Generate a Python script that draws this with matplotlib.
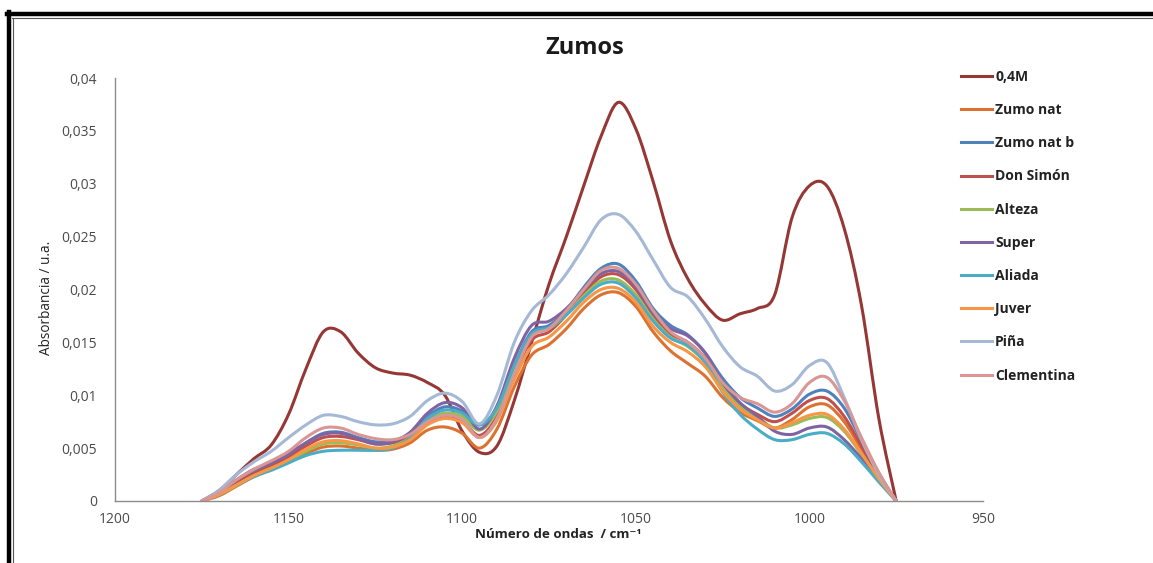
import matplotlib
matplotlib.use("Agg")
import matplotlib.pyplot as plt
from matplotlib.path import Path
from matplotlib.patches import PathPatch
from matplotlib.lines import Line2D

# Wavenumber grid (cm-1) shared by all spectra
wavenumbers = [1175, 1170, 1165, 1160, 1155, 1150, 1145, 1140, 1135, 1130,
               1125, 1120, 1115, 1110, 1105, 1100, 1095, 1090, 1085, 1080,
               1075, 1070, 1065, 1060, 1055, 1050, 1045, 1040, 1035, 1030,
               1025, 1020, 1015, 1010, 1005, 1000, 995, 990, 985, 980, 975]

abs_04M = [0, 0.0010, 0.0025, 0.0040, 0.0053, 0.0082, 0.0125, 0.0160, 0.0160, 0.0140,
           0.0126, 0.0121, 0.0119, 0.0112, 0.0100, 0.0066, 0.0046, 0.0052, 0.0095, 0.0150,
           0.0205, 0.0250, 0.0298, 0.0345, 0.0377, 0.0352, 0.0302, 0.0246, 0.0210, 0.0186,
           0.0171, 0.0177, 0.0182, 0.0195, 0.0268, 0.0298, 0.0298, 0.0258, 0.0185, 0.0078, 0]

abs_zumo_nat = [0, 0.0005, 0.0014, 0.0023, 0.0030, 0.0037, 0.0045, 0.0051, 0.0052, 0.0050,
                0.0048, 0.0049, 0.0055, 0.0067, 0.0070, 0.0064, 0.0050, 0.0068, 0.0108, 0.0138,
                0.0148, 0.0163, 0.0182, 0.0195, 0.0197, 0.0184, 0.0160, 0.0142, 0.0130, 0.0118,
                0.0098, 0.0084, 0.0076, 0.0069, 0.0077, 0.0089, 0.0091, 0.0075, 0.0049, 0.0022, 0]

abs_zumo_nat_b = [0, 0.0007, 0.0017, 0.0027, 0.0035, 0.0043, 0.0055, 0.0064, 0.0065, 0.0060,
                  0.0056, 0.0057, 0.0064, 0.0080, 0.0089, 0.0085, 0.0072, 0.0088, 0.0128, 0.0160,
                  0.0166, 0.0180, 0.0202, 0.0220, 0.0224, 0.0208, 0.0182, 0.0166, 0.0157, 0.0140,
                  0.0116, 0.0098, 0.0088, 0.0080, 0.0087, 0.0101, 0.0104, 0.0088, 0.0057, 0.0026, 0]

abs_don_simon = [0, 0.0007, 0.0017, 0.0026, 0.0033, 0.0041, 0.0052, 0.0060, 0.0061, 0.0058,
                 0.0054, 0.0055, 0.0061, 0.0074, 0.0080, 0.0076, 0.0062, 0.0080, 0.0120, 0.0152,
                 0.0160, 0.0176, 0.0196, 0.0212, 0.0214, 0.0200, 0.0175, 0.0158, 0.0150, 0.0135,
                 0.0110, 0.0092, 0.0082, 0.0075, 0.0083, 0.0095, 0.0097, 0.0080, 0.0052, 0.0024, 0]

abs_alteza = [0, 0.0006, 0.0015, 0.0024, 0.0031, 0.0038, 0.0047, 0.0054, 0.0055, 0.0053,
              0.0050, 0.0052, 0.0060, 0.0076, 0.0083, 0.0080, 0.0067, 0.0085, 0.0125, 0.0156,
              0.0163, 0.0176, 0.0194, 0.0208, 0.0209, 0.0195, 0.0172, 0.0155, 0.0146, 0.0131,
              0.0107, 0.0089, 0.0079, 0.0069, 0.0072, 0.0078, 0.0079, 0.0066, 0.0044, 0.0021, 0]

abs_super = [0, 0.0008, 0.0020, 0.0030, 0.0036, 0.0045, 0.0055, 0.0063, 0.0064, 0.0059,
             0.0054, 0.0056, 0.0065, 0.0083, 0.0093, 0.0088, 0.0068, 0.0090, 0.0135, 0.0166,
             0.0170, 0.0182, 0.0200, 0.0215, 0.0217, 0.0203, 0.0178, 0.0163, 0.0156, 0.0140,
             0.0112, 0.0093, 0.0080, 0.0066, 0.0063, 0.0069, 0.0070, 0.0058, 0.0040, 0.0020, 0]

abs_aliada = [0, 0.0006, 0.0015, 0.0023, 0.0029, 0.0036, 0.0043, 0.0047, 0.0048, 0.0048,
              0.0048, 0.0050, 0.0060, 0.0078, 0.0086, 0.0083, 0.0072, 0.0088, 0.0128, 0.0158,
              0.0164, 0.0176, 0.0192, 0.0205, 0.0206, 0.0192, 0.0170, 0.0154, 0.0147, 0.0131,
              0.0103, 0.0082, 0.0068, 0.0058, 0.0058, 0.0063, 0.0064, 0.0054, 0.0037, 0.0018, 0]

abs_juver = [0, 0.0006, 0.0015, 0.0024, 0.0031, 0.0039, 0.0049, 0.0056, 0.0057, 0.0054,
             0.0050, 0.0051, 0.0058, 0.0072, 0.0078, 0.0074, 0.0060, 0.0076, 0.0115, 0.0146,
             0.0155, 0.0170, 0.0188, 0.0200, 0.0201, 0.0188, 0.0165, 0.0150, 0.0141, 0.0127,
             0.0104, 0.0087, 0.0077, 0.0069, 0.0074, 0.0081, 0.0082, 0.0068, 0.0045, 0.0021, 0]

abs_pina = [0, 0.0010, 0.0025, 0.0037, 0.0047, 0.0060, 0.0072, 0.0081, 0.0080, 0.0075,
            0.0072, 0.0073, 0.0080, 0.0095, 0.0102, 0.0094, 0.0073, 0.0100, 0.0150, 0.0180,
            0.0195, 0.0215, 0.0240, 0.0266, 0.0271, 0.0255, 0.0228, 0.0202, 0.0193, 0.0172,
            0.0146, 0.0127, 0.0118, 0.0104, 0.0110, 0.0128, 0.0131, 0.0098, 0.0058, 0.0025, 0]

abs_clementina = [0, 0.0008, 0.0020, 0.0030, 0.0038, 0.0047, 0.0060, 0.0069, 0.0069, 0.0063,
                  0.0059, 0.0058, 0.0063, 0.0075, 0.0081, 0.0077, 0.0060, 0.0078, 0.0120, 0.0155,
                  0.0163, 0.0180, 0.0200, 0.0218, 0.0220, 0.0205, 0.0180, 0.0160, 0.0150, 0.0135,
                  0.0112, 0.0098, 0.0092, 0.0084, 0.0092, 0.0112, 0.0117, 0.0095, 0.0060, 0.0027, 0]

series_names = ["0,4M", "Zumo nat", "Zumo nat b", "Don Simón", "Alteza",
                "Super", "Aliada", "Juver", "Piña", "Clementina"]
series_values = [abs_04M, abs_zumo_nat, abs_zumo_nat_b, abs_don_simon, abs_alteza,
                 abs_super, abs_aliada, abs_juver, abs_pina, abs_clementina]
series_colors = ["#953735", "#DB7230", "#4F81BD", "#C0504D", "#9BBB59",
                 "#8064A2", "#4BACC6", "#F79646", "#A5B8D6", "#D99694"]

x_ticks = [1200, 1150, 1100, 1050, 1000, 950]
y_ticks = [0, 0.005, 0.01, 0.015, 0.02, 0.025, 0.03, 0.035, 0.04]
y_tick_labels = ["0", "0,005", "0,01", "0,015", "0,02", "0,025", "0,03", "0,035", "0,04"]

FONT = ["Open Sans", "DejaVu Sans"]
plt.rcParams["font.family"] = FONT


def smooth_path(xs, ys):
    """Smoothed polyline (Catmull-Rom style cubic Bezier segments) through the points."""
    n = len(xs)
    verts = [(xs[0], ys[0])]
    codes = [Path.MOVETO]
    for i in range(n - 1):
        ip = max(i - 1, 0)
        inn = min(i + 2, n - 1)
        c1 = (xs[i] + (xs[i + 1] - xs[ip]) / 6.0, ys[i] + (ys[i + 1] - ys[ip]) / 6.0)
        c2 = (xs[i + 1] - (xs[inn] - xs[i]) / 6.0, ys[i + 1] - (ys[inn] - ys[i]) / 6.0)
        verts += [c1, c2, (xs[i + 1], ys[i + 1])]
        codes += [Path.CURVE4, Path.CURVE4, Path.CURVE4]
    return Path(verts, codes)


W, H = 1153, 563
fig = plt.figure(figsize=(W / 100, H / 100), dpi=100)
ax = fig.add_axes([115 / W, 1 - 501 / H, (983 - 115) / W, (501 - 78) / H])

handles = []
for name, vals, col in zip(series_names, series_values, series_colors):
    patch = PathPatch(smooth_path(wavenumbers, vals), fill=False, edgecolor=col,
                      linewidth=2.2, capstyle="round", joinstyle="round")
    ax.add_patch(patch)
    handles.append(Line2D([], [], color=col, linewidth=2.2, label=name))

ax.set_xlim(1200, 950)
ax.set_ylim(0, 0.04)
ax.set_xticks(x_ticks)
ax.set_xticklabels([str(t) for t in x_ticks])
ax.set_yticks(y_ticks)
ax.set_yticklabels(y_tick_labels)
ax.tick_params(axis="both", length=0, labelsize=10, colors="#4A4A4A")
ax.tick_params(axis="y", pad=13)
ax.tick_params(axis="x", pad=8)

for side in ["top", "right"]:
    ax.spines[side].set_visible(False)
for side in ["left", "bottom"]:
    ax.spines[side].set_color("#8C8C8C")
    ax.spines[side].set_linewidth(1.0)

ax.set_title("Zumos", fontsize=17, fontweight="bold", color="#1A1A1A", pad=17,
             x=(585 - 115) / (983 - 115))
fig.text(47 / W, 1 - 298 / H, "Absorbancia / u.a.", rotation=90, ha="center",
         va="center", fontsize=9.8, color="#222222")
fig.text(558 / W, 1 - 535 / H, "Número de ondas  / cm⁻¹", ha="center", va="center",
         fontsize=9.6, fontweight="bold", color="#222222")

leg = fig.legend(handles=handles, loc="upper left", bbox_to_anchor=(961 / W, 1 - 70 / H),
                 frameon=False, fontsize=10, handlelength=2.2, handletextpad=0.25,
                 labelspacing=1.38, borderaxespad=0, borderpad=0)
for txt in leg.get_texts():
    txt.set_fontweight("bold")
    txt.set_color("#222222")

# Frame around the picture
fig.add_artist(Line2D([7 / W, 1], [1 - 14 / H, 1 - 14 / H], color="black",
                      linewidth=3.2, transform=fig.transFigure))
fig.add_artist(Line2D([12 / W, 1], [1 - 18 / H, 1 - 18 / H], color="#555555",
                      linewidth=0.8, transform=fig.transFigure))
fig.add_artist(Line2D([9 / W, 9 / W], [0, 1 - 12 / H], color="black",
                      linewidth=3.2, transform=fig.transFigure))
fig.add_artist(Line2D([13 / W, 13 / W], [0, 1 - 18 / H], color="#555555",
                      linewidth=0.8, transform=fig.transFigure))

fig.savefig("out.png", dpi=100, facecolor="white")
